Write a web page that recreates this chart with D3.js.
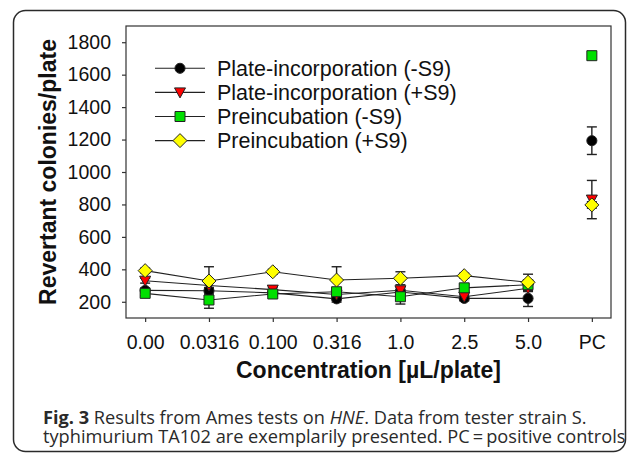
<!DOCTYPE html>
<html>
<head>
<meta charset="utf-8">
<script src="https://cdn.jsdelivr.net/npm/d3@7"></script>
<style>
  html, body { margin: 0; padding: 0; background: #fff; }
  svg { display: block; }
  .tick text { font-family: Arial, "Liberation Sans", sans-serif; }
</style>
</head>
<body>
<div id="chart"></div>
<script>
// categories on the x axis
const concentrations = ['0.00', '0.0316', '0.100', '0.316', '1.0', '2.5', '5.0', 'PC'];
const yTicks = [200, 400, 600, 800, 1000, 1200, 1400, 1600, 1800];

// mean revertant colonies per plate
const plateMinusS9 = [270, 268, 255, 218, 260, 221, 221, 1193];
const platePlusS9 = [330, 300, 275, 245, 271, 231, 283, 830];
const preincMinusS9 = [252, 211, 248, 262, 231, 286, 305, 1717];
const preincPlusS9 = [392, 328, 385, 334, 345, 361, 320, 797];

// standard deviations
const plateMinusS9Sd = [15, 20, 15, 20, 15, 15, 50, 85];
const platePlusS9Sd = [15, 20, 15, 15, 15, 15, 20, 118];
const preincMinusS9Sd = [15, 51, 15, 20, 45, 20, 20, 0];
const preincPlusS9Sd = [15, 88, 15, 82, 40, 15, 50, 20];

const seriesNames = [
    'Plate-incorporation (-S9)',
    'Plate-incorporation (+S9)',
    'Preincubation (-S9)',
    'Preincubation (+S9)',
];

const series = [
    { name: seriesNames[0], values: plateMinusS9, sd: plateMinusS9Sd, symbol: d3.symbolCircle, size: 80, fill: '#000000' },
    { name: seriesNames[1], values: platePlusS9, sd: platePlusS9Sd, symbol: 'triDown', size: 0, fill: '#ff0000' },
    { name: seriesNames[2], values: preincMinusS9, sd: preincMinusS9Sd, symbol: d3.symbolSquare, size: 100, fill: '#00e000' },
    { name: seriesNames[3], values: preincPlusS9, sd: preincPlusS9Sd, symbol: 'diamond', size: 0, fill: '#ffff00' },
];

const W = 636, H = 453;
const margin = { left: 126, right: 25, top: 26, bottom: 135 };

const svg = d3.select('#chart').append('svg')
    .attr('width', W)
    .attr('height', H);

// card frame
svg.append('rect')
    .attr('x', 13.5).attr('y', 10.5)
    .attr('width', 612).attr('height', 441)
    .attr('rx', 12).attr('ry', 12)
    .attr('fill', 'none')
    .attr('stroke', '#2a2a2a')
    .attr('stroke-width', 1.5);

const x = d3.scalePoint()
    .domain(concentrations)
    .range([margin.left, W - margin.right])
    .padding(0.3);

const y = d3.scaleLinear()
    .domain([100, 1900])
    .range([H - margin.bottom, margin.top]);

// plot box
svg.append('rect')
    .attr('x', margin.left).attr('y', margin.top)
    .attr('width', W - margin.right - margin.left)
    .attr('height', H - margin.bottom - margin.top)
    .attr('fill', 'none')
    .attr('stroke', '#333')
    .attr('stroke-width', 1.2);

const yAxis = svg.append('g')
    .attr('transform', `translate(${margin.left},0)`)
    .call(d3.axisLeft(y).tickValues(yTicks).tickSize(4).tickPadding(11).tickFormat(d3.format('d')));

const xAxis = svg.append('g')
    .attr('transform', `translate(0,${H - margin.bottom})`)
    .call(d3.axisBottom(x).tickSize(4).tickPadding(11));

[yAxis, xAxis].forEach(g => {
    g.select('.domain').remove();
    g.selectAll('.tick line').attr('stroke', '#333').attr('stroke-width', 1.2);
    g.selectAll('.tick text')
        .attr('fill', '#111')
        .style('font-size', '19.5px');
});
xAxis.selectAll('.tick text').attr('dy', '0.8em');

// axis titles
svg.append('text')
    .attr('x', (margin.left + W - margin.right) / 2)
    .attr('y', 378)
    .attr('text-anchor', 'middle')
    .style('font-family', 'Arial, "Liberation Sans", sans-serif')
    .style('font-weight', 'bold')
    .style('font-size', '23px')
    .attr('fill', '#111')
    .text('Concentration [µL/plate]');

svg.append('text')
    .attr('transform', `translate(56,${(margin.top + H - margin.bottom) / 2}) rotate(-90)`)
    .attr('text-anchor', 'middle')
    .style('font-family', 'Arial, "Liberation Sans", sans-serif')
    .style('font-weight', 'bold')
    .style('font-size', '23px')
    .attr('fill', '#111')
    .text('Revertant colonies/plate');

function markerPath(s) {
    if (s.symbol === 'triDown') {
        return 'M-5.5,-4.5L5.5,-4.5L0,5.5Z';
    }
    if (s.symbol === 'diamond') {
        return 'M0,-7L7,0L0,7L-7,0Z';
    }
    return d3.symbol().type(s.symbol).size(s.size)();
}

const lineGen = d3.line()
    .x(d => x(d.cat))
    .y(d => y(d.value));

// connecting lines, concentrations only (no line to PC)
series.forEach(s => {
    const pts = concentrations.slice(0, 7).map((c, i) => ({ cat: c, value: s.values[i] }));
    svg.append('path')
        .datum(pts)
        .attr('d', lineGen)
        .attr('fill', 'none')
        .attr('stroke', '#222')
        .attr('stroke-width', 1.1);
});

// error bars
series.forEach(s => {
    const g = svg.append('g').attr('stroke', '#222').attr('stroke-width', 1.4);
    concentrations.forEach((c, i) => {
        const sd = s.sd[i];
        if (!sd) return;
        const cx = x(c);
        const top = y(s.values[i] + sd), bot = y(s.values[i] - sd);
        g.append('line').attr('x1', cx).attr('x2', cx).attr('y1', top).attr('y2', bot);
        g.append('line').attr('x1', cx - 5).attr('x2', cx + 5).attr('y1', top).attr('y2', top);
        g.append('line').attr('x1', cx - 5).attr('x2', cx + 5).attr('y1', bot).attr('y2', bot);
    });
});

// markers
series.forEach(s => {
    svg.append('g').selectAll('path')
        .data(concentrations.map((c, i) => ({ cat: c, value: s.values[i] })))
        .join('path')
        .attr('transform', d => `translate(${x(d.cat)},${y(d.value)})`)
        .attr('d', markerPath(s))
        .attr('fill', s.fill)
        .attr('stroke', '#222')
        .attr('stroke-width', 1);
});

// legend
const legend = svg.append('g');
series.forEach((s, i) => {
    const ly = 68.3 + i * 24.1;
    legend.append('line')
        .attr('x1', 155).attr('x2', 205)
        .attr('y1', ly).attr('y2', ly)
        .attr('stroke', '#222').attr('stroke-width', 1.1);
    legend.append('path')
        .attr('transform', `translate(180,${ly})`)
        .attr('d', markerPath(s))
        .attr('fill', s.fill)
        .attr('stroke', '#222')
        .attr('stroke-width', 1);
    legend.append('text')
        .attr('x', 217)
        .attr('y', ly)
        .attr('dy', '0.35em')
        .style('font-family', 'Arial, "Liberation Sans", sans-serif')
        .style('font-size', '21.5px')
        .attr('fill', '#111')
        .text(s.name);
});

// caption
const cap1 = svg.append('text')
    .attr('x', 43).attr('y', 424)
    .style('font-family', '"Open Sans", sans-serif')
    .style('font-size', '18.2px')
    .attr('fill', '#2a2a2a');
cap1.append('tspan').style('font-weight', 'bold').text('Fig. 3');
cap1.append('tspan').text(' Results from Ames tests on ');
cap1.append('tspan').style('font-style', 'italic').text('HNE');
cap1.append('tspan').text('. Data from tester strain S.');

svg.append('text')
    .attr('x', 43).attr('y', 443)
    .style('font-family', '"Open Sans", sans-serif')
    .style('font-size', '18.2px')
    .attr('fill', '#2a2a2a')
    .text('typhimurium TA102 are exemplarily presented. PC\u2009=\u2009positive controls');
</script>
</body>
</html>
